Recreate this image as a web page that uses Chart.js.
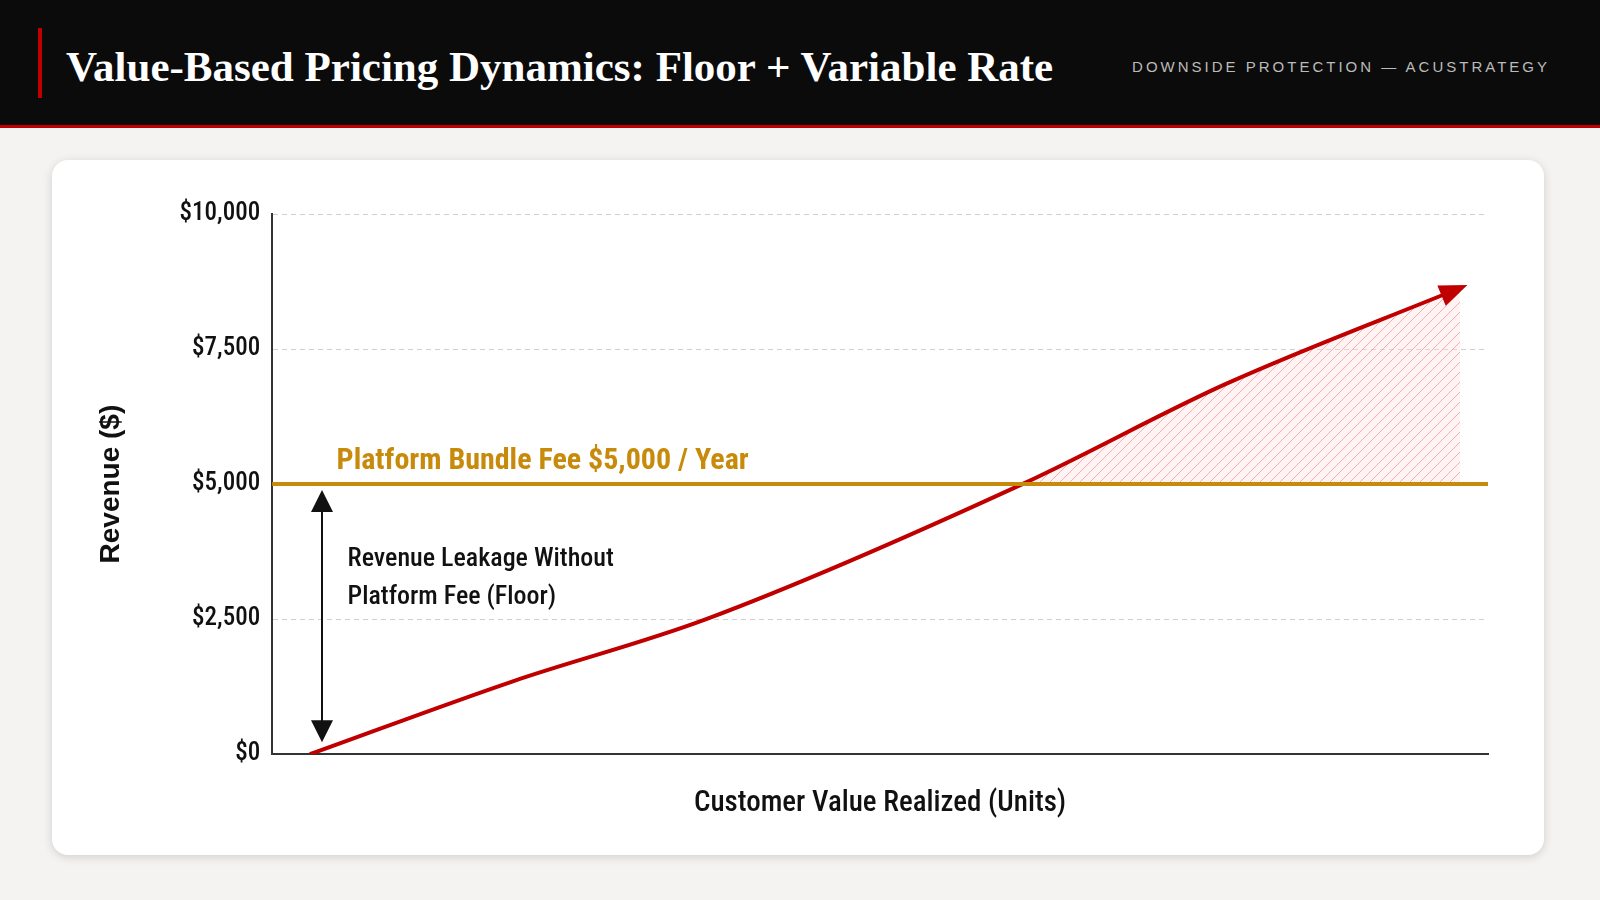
<!DOCTYPE html>
<html><head><meta charset="utf-8">
<script src="https://cdn.jsdelivr.net/npm/chart.js@4"></script>
<style>
body{margin:0;width:1600px;height:900px;background:#f4f3f1;overflow:hidden;font-family:"Liberation Sans",Arial,sans-serif}
#hdr{position:absolute;left:0;top:0;width:1600px;height:125px;background:#0b0b0b;border-bottom:3px solid #c00000}
#bar{position:absolute;left:38px;top:28px;width:4px;height:70px;background:#c00000}
#title{position:absolute;left:66px;top:42px;color:#fff;font-family:"Liberation Serif","DejaVu Serif",serif;font-weight:bold;font-size:43px}
#sub{position:absolute;right:50px;top:58px;color:#bbb;font-size:15px;letter-spacing:3px}
#card{position:absolute;left:52px;top:160px;width:1492px;height:695px;background:#fff;border-radius:16px;box-shadow:0 2px 10px rgba(0,0,0,0.15)}
#wrap{position:absolute;left:52px;top:160px;width:1492px;height:695px}
</style></head><body>
<div id="hdr"><div id="bar"></div><div id="title">Value-Based Pricing Dynamics: Floor + Variable Rate</div><div id="sub">DOWNSIDE PROTECTION — ACUSTRATEGY</div></div>
<div id="card"></div>
<div id="wrap"><canvas id="c" width="1492" height="695"></canvas></div>
<script>
const valueUnits=[3.1,19.8,35.7,61.7,78.4,97.7];
const revenue=[0,1350,2500,5000,6850,8630];
const yTicks=[0,2500,5000,7500,10000];
const floorFee=5000;
const floorLabel="Platform Bundle Fee $5,000 / Year";
const leakLabel=["Revenue Leakage Without","Platform Fee (Floor)"];
const cond='"Liberation Sans Narrow","Roboto Condensed","Roboto",sans-serif';

const pc=document.createElement('canvas');pc.width=10;pc.height=10;
const px=pc.getContext('2d');px.fillStyle='rgba(255,220,220,0.35)';px.fillRect(0,0,10,10);
px.strokeStyle='rgba(230,120,120,0.55)';px.lineWidth=1;
px.beginPath();px.moveTo(0,10);px.lineTo(10,0);px.moveTo(-5,5);px.lineTo(5,-5);px.moveTo(5,15);px.lineTo(15,5);px.stroke();
const pattern=px.createPattern(pc,'repeat');

const extras={id:'extras',afterDatasetsDraw(ch){
 const c=ch.ctx,x=ch.scales.x,y=ch.scales.y;
 c.save();c.strokeStyle='#c88a0a';c.lineWidth=4;c.beginPath();
 c.moveTo(x.left,y.getPixelForValue(floorFee));c.lineTo(x.right,y.getPixelForValue(floorFee));c.stroke();
 c.fillStyle='#c88a0a';c.font='bold 30px '+cond;c.textBaseline='bottom';
 c.fillText(floorLabel,x.getPixelForValue(5.3),y.getPixelForValue(floorFee)-8);
 const n=valueUnits.length;
 const x1=x.getPixelForValue(valueUnits[n-2]),y1=y.getPixelForValue(revenue[n-2]);
 const x2=x.getPixelForValue(valueUnits[n-1]),y2=y.getPixelForValue(revenue[n-1]);
 const a=Math.atan2(y2-y1,x2-x1);
 c.fillStyle='#c00000';c.beginPath();
 c.moveTo(x2+8*Math.cos(a),y2+8*Math.sin(a));
 c.lineTo(x2-20*Math.cos(a)+11*Math.sin(a),y2-20*Math.sin(a)-11*Math.cos(a));
 c.lineTo(x2-20*Math.cos(a)-11*Math.sin(a),y2-20*Math.sin(a)+11*Math.cos(a));c.fill();
 const ax=x.getPixelForValue(4.1),top=y.getPixelForValue(floorFee)+6,bot=y.getPixelForValue(0)-12;
 c.strokeStyle='#111';c.fillStyle='#111';c.lineWidth=2;c.beginPath();c.moveTo(ax,top+18);c.lineTo(ax,bot-18);c.stroke();
 c.beginPath();c.moveTo(ax,top);c.lineTo(ax-11,top+22);c.lineTo(ax+11,top+22);c.fill();
 c.beginPath();c.moveTo(ax,bot);c.lineTo(ax-11,bot-22);c.lineTo(ax+11,bot-22);c.fill();
 c.font='500 26px '+cond;c.textBaseline='middle';
 c.fillText(leakLabel[0],x.getPixelForValue(6.2),y.getPixelForValue(3600));
 c.fillText(leakLabel[1],x.getPixelForValue(6.2),y.getPixelForValue(2900));
 c.restore();
}};

new Chart(document.getElementById('c'),{type:'scatter',
 data:{datasets:[{data:valueUnits.map((v,i)=>({x:v,y:revenue[i]})),showLine:true,borderColor:'#c00000',borderWidth:4,pointRadius:0,
  cubicInterpolationMode:'monotone',fill:{value:floorFee},backgroundColor:'transparent'}]},
 options:{responsive:false,animation:false,
  layout:{padding:{left:38,right:56,top:54,bottom:30}},
  plugins:{legend:{display:false},tooltip:{enabled:false},filler:{propagate:false}},
  scales:{
   x:{type:'linear',min:0,max:100,grid:{display:false},border:{color:'#333',width:2},ticks:{display:false},
      title:{display:true,text:'Customer Value Realized (Units)',color:'#111',font:{family:cond,size:29,weight:'500'},padding:{top:24}}},
   y:{min:0,max:10000,afterBuildTicks:s=>{s.ticks=yTicks.map(v=>({value:v}))},
      grid:{color:'#d0d0d0',drawTicks:false},border:{color:'#333',width:2,dash:[5,4]},
      ticks:{color:'#111',padding:12,font:{family:cond,size:25,weight:'500'},callback:v=>'$'+v.toLocaleString('en-US')},
      title:{display:true,text:'Revenue ($)',color:'#111',font:{size:28,weight:'bold'},padding:{bottom:40}}}
  }},
 plugins:[{id:'fillset',beforeInit(ch){ch.data.datasets[0].fill={value:floorFee,above:pattern,below:'transparent'};}},extras]
});
</script></body></html>
